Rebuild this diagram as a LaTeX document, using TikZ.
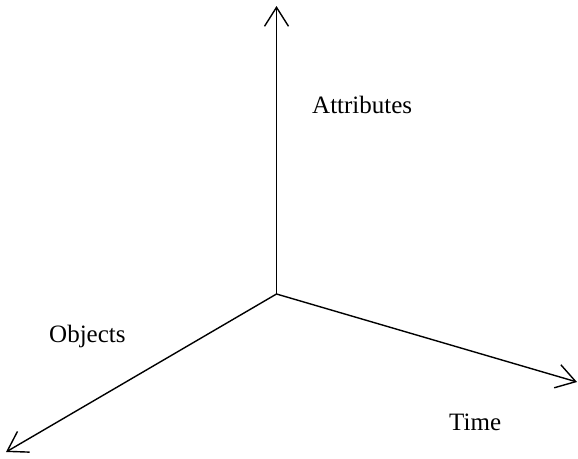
\documentclass[tikz,border=0pt]{standalone}
\usepackage{fontspec}
\setmainfont{Liberation Serif}
\usetikzlibrary{arrows.meta}
\begin{document}
\begin{tikzpicture}[x=1pt,y=-1pt,
  axis/.style={line width=1.4pt,-{Straight Barb[length=19pt,width=24pt,line width=1.4pt]}},
  lbl/.style={anchor=base west,inner sep=0pt,font=\fontsize{25}{30}\selectfont}]
\useasboundingbox (0,0) rectangle (578,458);
\coordinate (o) at (276.5,294);
\coordinate (up) at (276.5,6);
\coordinate (rt) at (577,382);
\coordinate (lf) at (6,452);
\draw[axis] (o) -- (up);
\draw[axis] (o) -- (rt);
\draw[axis] (o) -- (lf);
\node[lbl] (attr) at (312,113) {Attributes};
\node[lbl] (obj) at (49,342) {Objects};
\node[lbl] (time) at (449,430) {Time};
\end{tikzpicture}
\end{document}
